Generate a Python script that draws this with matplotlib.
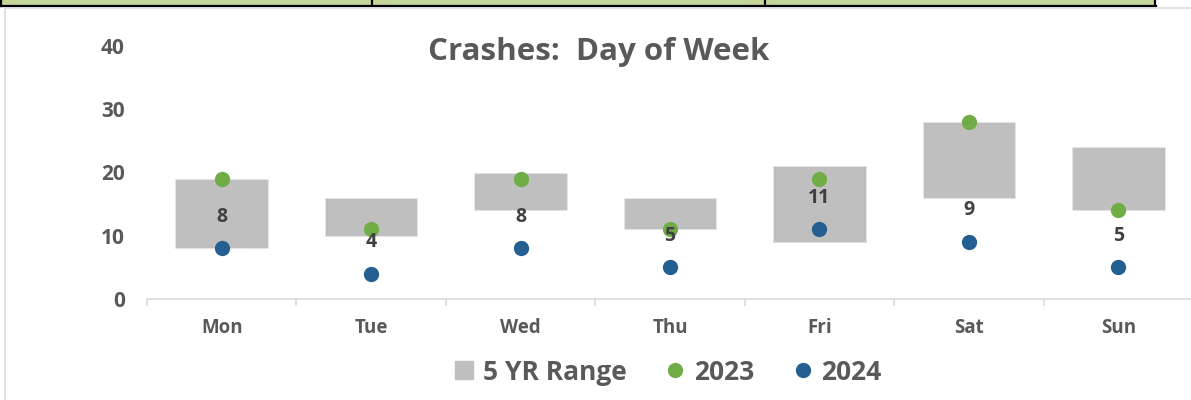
import numpy as np
import matplotlib.pyplot as plt
from matplotlib.lines import Line2D
from matplotlib.patches import Rectangle

days = ['Mon', 'Tue', 'Wed', 'Thu', 'Fri', 'Sat', 'Sun']
range_lo = [8, 10, 14, 11, 9, 16, 14]
range_hi = [19, 16, 20, 16, 21, 28, 24]
y2023 = [19, 11, 19, 11, 19, 28, 14]
y2024 = [8, 4, 8, 5, 11, 9, 5]
yticks = [0, 10, 20, 30, 40]
series = ['5 YR Range', '2023', '2024']

plt.rcParams['font.family'] = ['Open Sans', 'DejaVu Sans']
txt = '#595959'

fig = plt.figure(figsize=(11.91, 4.0), dpi=100)
W, H = 1191, 400

# sheet decoration: green cells strip on top, chart border
fig.patches.append(Rectangle((0, 1 - 5 / H), 1156 / W, 5 / H, transform=fig.transFigure,
                             facecolor='#c4d79b', edgecolor='none', zorder=0))
fig.lines.append(Line2D([0, 1156 / W], [1 - 5.5 / H] * 2, transform=fig.transFigure, color='black', lw=1.6))
for xp in [1, 372, 765, 1155]:
    fig.lines.append(Line2D([xp / W] * 2, [1 - 5.5 / H, 1], transform=fig.transFigure, color='black', lw=1.6))
fig.lines.append(Line2D([4.5 / W, 1], [1 - 7.5 / H] * 2, transform=fig.transFigure, color='#d9d9d9', lw=1.2))
fig.lines.append(Line2D([4.5 / W] * 2, [0, 1 - 7.5 / H], transform=fig.transFigure, color='#d9d9d9', lw=1.2))

ax = fig.add_axes([147 / W, 101 / H, 1046 / W, 253 / H])
x = np.arange(len(days))
heights = np.array(range_hi) - np.array(range_lo)
ax.bar(x, heights, bottom=range_lo, width=0.62, color='#bfbfbf', edgecolor='#e6e6e6', lw=0.6, zorder=1)
ax.plot(x, y2023, 'o', color='#70ad47', ms=11, mec='none', zorder=3)
ax.plot(x, y2024, 'o', color='#255e91', ms=11, mec='none', zorder=3)
for xi, v in zip(x, y2024):
    ax.text(xi, v + 5, str(v), ha='center', va='center', fontsize=14, fontweight='bold',
            color='#404040', zorder=4)

ax.set_xlim(-0.5, 6.5)
ax.set_ylim(0, 40)
ax.set_yticks(yticks)
ax.set_xticks(x)
ax.set_xticklabels(days)
ax.set_xticks(np.arange(-0.5, 7, 1), minor=True)
for s in ['top', 'right', 'left']:
    ax.spines[s].set_visible(False)
ax.spines['bottom'].set_color('#d9d9d9')
ax.spines['bottom'].set_linewidth(1.2)
ax.tick_params(axis='y', length=0, pad=16, labelsize=15, labelcolor=txt)
ax.tick_params(axis='x', which='major', length=0, pad=14, labelsize=13.5, labelcolor=txt)
ax.tick_params(axis='x', which='minor', length=5, color='#d9d9d9', width=1.2)
for lab in ax.get_xticklabels() + ax.get_yticklabels():
    lab.set_fontweight('bold')

fig.text(599 / W, 1 - 52 / H, 'Crashes:  Day of Week', ha='center', va='center',
         fontsize=22.5, fontweight='bold', color=txt)

handles = [Line2D([], [], marker='s', ls='none', color='#bfbfbf', ms=13),
           Line2D([], [], marker='o', ls='none', color='#70ad47', ms=11, mec='none'),
           Line2D([], [], marker='o', ls='none', color='#255e91', ms=11, mec='none')]
fig.legend(handles, series, loc='center', bbox_to_anchor=(665 / W, 1 - 372 / H), ncol=3, frameon=False,
           prop={'size': 19, 'weight': 'bold'}, labelcolor=txt, handletextpad=0.1,
           columnspacing=1.25, handlelength=1.2)

fig.savefig('out.png', dpi=100, facecolor='white')
